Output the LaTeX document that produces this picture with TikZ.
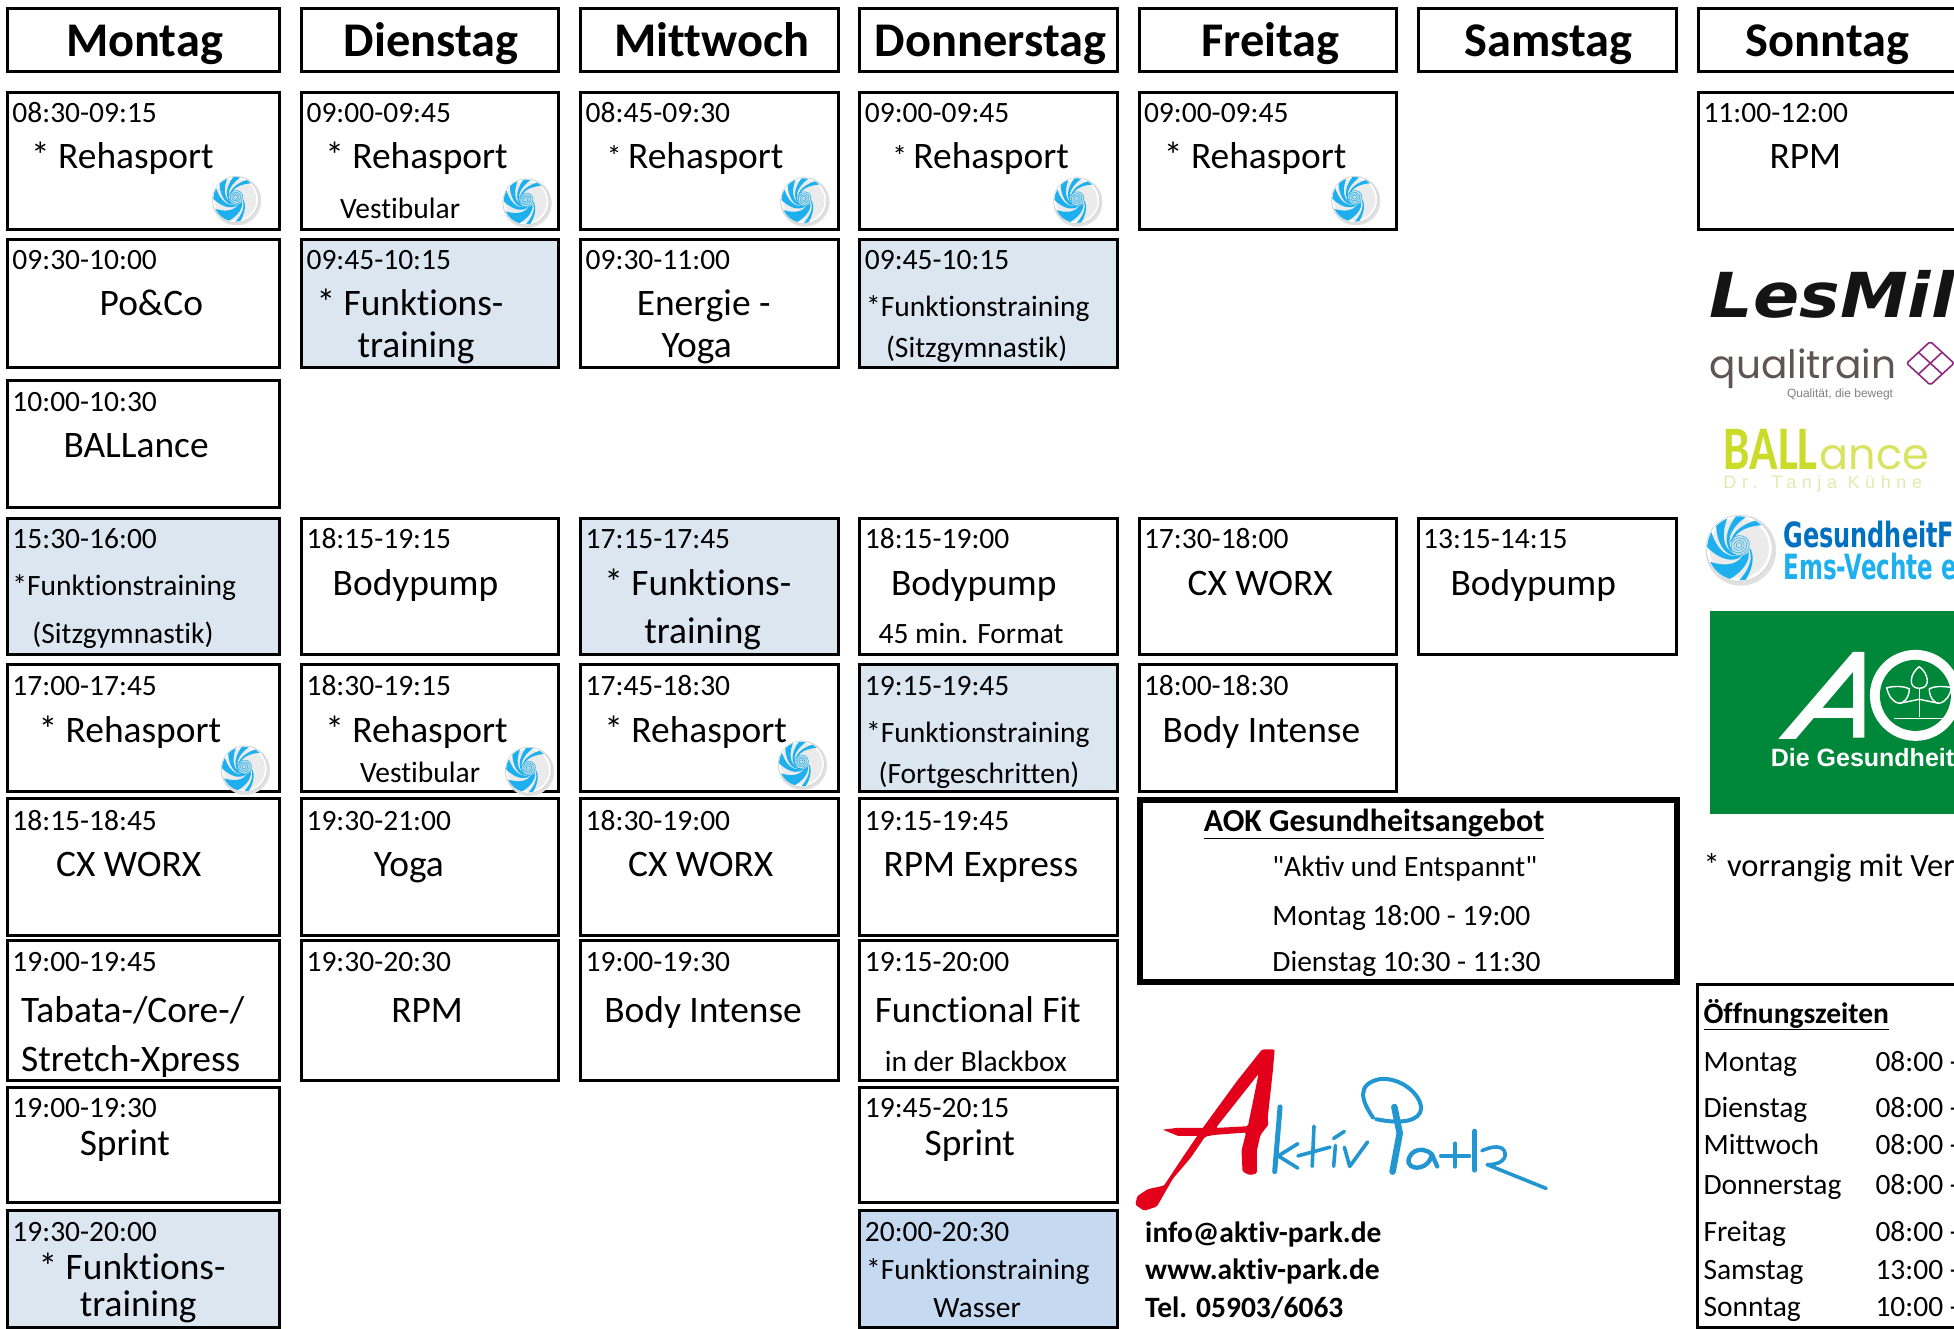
\documentclass[tikz,border=0pt]{standalone}
\usepackage{fontspec}
\setmainfont{Carlito}[RawFeature={-liga;-clig}]
\newfontfamily\qfont{Carlito}[Ligatures=ResetAll]
\newfontfamily\djsans{DejaVu Sans}
\newfontfamily\popfont{Poppins}
\newfontfamily\libsans{Liberation Sans}
\definecolor{funk}{HTML}{DCE6F1}
\definecolor{wass}{HTML}{C5D9F1}
\definecolor{swblue}{HTML}{1EB0EE}
\definecolor{gfblue}{HTML}{0070C0}
\definecolor{aokgreen}{HTML}{00883A}
\definecolor{lime}{HTML}{CBDB2A}
\definecolor{limepale}{HTML}{E3EAAE}
\definecolor{purp}{HTML}{8B2A7E}
\definecolor{qgrey}{HTML}{5E5454}
\definecolor{apred}{HTML}{E2001A}
\definecolor{apblue}{HTML}{2196D1}
\newcounter{lc}
\tikzset{
  x=1.2462pt,y=-1.2462pt,
  boxln/.style={draw=black,line width=3pt},
  lab/.style={anchor=base west,inner sep=0pt,outer sep=0pt,text=black},
  ftitle/.style={lab,font=\fontsize{48.4}{50}\bfseries\selectfont},
  ftime/.style={lab,font=\fontsize{29.5}{32}\selectfont},
  fmain/.style={lab,font=\fontsize{37.4}{40}\selectfont},
  fbold/.style={lab,font=\fontsize{29.5}{32}\bfseries\selectfont},
  swirl/.pic={
    \begin{scope}[x=#1,y=#1]
    \fill[black!12] (.05,-.06) circle (1.07);
    \fill[white] (0,0) circle (1);
    \fill[black!8] (0,0) circle (.9);
    \foreach \a/\w in {205/48,150/28,112/24,78/18,46/14,270/12}{
      \fill[swblue,rotate=\a] (0:.97) arc (0:\w:.97)
        .. controls (\w+45:.66) and (\w+90:.42) .. (\w+130:.2)
        .. controls (90:.42) and (45:.66) .. cycle;
    }
    \fill[swblue!55!black!20!white] (.04,.08) circle (.3);
    \foreach \r in {.08,.15,.22,.29}{
      \draw[swblue,line width=.5pt,rotate=30] (.04,.08) ellipse ({\r*1.1} and \r);
    }
    \draw[black!20,line width=.5pt] (0,0) circle (1);
    \end{scope}
  }
}
\newcommand\lb[4]{\stepcounter{lc}\node[#1,name=l\thelc] at (#2,#3) {#4};}
\newcommand\tm[3]{\lb{ftime}{#1}{#2+8.5}{#3}}
\newcommand\mn[3]{\lb{fmain}{#1}{#2+10.5}{#3}}
\newcommand\sm[3]{\lb{ftime}{#1}{#2+9}{#3}}
\newcommand\hd[5]{\draw[boxln] (#1+1,6.5) rectangle (#2-.5,57); \lb{ftitle}{#3}{45.5}{#4}}
\newcommand\bx[5]{\draw[boxln,#5] (#1+1,#2) rectangle (#3-.5,#4);}
\newcommand\sw[2]{\pic at (#1,#2) {swirl=23pt};}
\begin{document}
\begin{tikzpicture}
\useasboundingbox (0,0) rectangle (1568,1066.4);
\clip (0,0) rectangle (1568,1066.4);
\fill[white] (0,0) rectangle (1568,1066.4);
% headers
\hd{5}{225}{53}{Montag}{}
\hd{241}{449}{276}{Dienstag}{}
\hd{465}{673}{493}{Mittwoch}{}
\hd{689}{897}{702}{Donnerstag}{}
\hd{913}{1121}{964}{Freitag}{}
\hd{1137}{1346}{1175}{Samstag}{}
\hd{1362}{1575}{1401}{Sonntag}{}
% Montag
\bx{5}{74}{225}{184}{}
\tm{10}{90}{08:30-09:15}\mn{25}{125}{* Rehasport}\sw{189}{160}
\bx{5}{192}{225}{295}{}
\tm{10}{208}{09:30-10:00}\mn{80}{243}{Po\&Co}
\bx{5}{305}{225}{407}{}
\tm{10}{322}{10:00-10:30}\mn{51}{357}{BALLance}
\bx{5}{416}{225}{525}{fill=funk}
\tm{10}{432}{15:30-16:00}\sm{10}{469}{*Funktionstraining}\sm{26}{507}{(Sitzgymnastik)}
\bx{5}{533}{225}{635}{}
\tm{10}{550}{17:00-17:45}\mn{31}{585}{* Rehasport}\sw{196}{617}
\bx{5}{641}{225}{751}{}
\tm{10}{658}{18:15-18:45}\mn{45}{693}{CX WORX}
\bx{5}{755}{225}{867}{}
\tm{10}{771}{19:00-19:45}\mn{17}{810}{Tabata-/Core-/}\mn{17}{849}{Stretch-Xpress}
\bx{5}{873}{225}{965}{}
\tm{10}{888}{19:00-19:30}\mn{64}{917}{Sprint}
\bx{5}{971}{225}{1065}{fill=funk}
\tm{10}{988}{19:30-20:00}\mn{31}{1016}{* Funktions-}\mn{64}{1046}{training}
% Dienstag
\bx{241}{74}{449}{184}{}
\tm{246}{90}{09:00-09:45}\mn{261}{125}{* Rehasport}\sm{273}{166}{Vestibular}\sw{422}{162}
\bx{241}{192}{449}{295}{fill=funk}
\tm{246}{208}{09:45-10:15}\mn{254}{243}{* Funktions-}\mn{287}{276}{training}
\bx{241}{416}{449}{525}{}
\tm{246}{432}{18:15-19:15}\mn{267}{467}{Bodypump}
\bx{241}{533}{449}{635}{}
\tm{246}{550}{18:30-19:15}\mn{261}{585}{* Rehasport}\sm{289}{619}{Vestibular}\sw{424}{618}
\bx{241}{641}{449}{751}{}
\tm{246}{658}{19:30-21:00}\mn{300}{693}{Yoga}
\bx{241}{755}{449}{867}{}
\tm{246}{771}{19:30-20:30}\mn{314}{810}{RPM}
% Mittwoch
\bx{465}{74}{673}{184}{}
\tm{470}{90}{08:45-09:30}\sm{487}{125}{*}\mn{504}{125}{Rehasport}\sw{645}{161}
\bx{465}{192}{673}{295}{}
\tm{470}{208}{09:30-11:00}\mn{511}{243}{Energie -}\mn{531}{276}{Yoga}
\bx{465}{416}{673}{525}{fill=funk}
\tm{470}{432}{17:15-17:45}\mn{485}{467}{* Funktions-}\mn{517}{506}{training}
\bx{465}{533}{673}{635}{}
\tm{470}{550}{17:45-18:30}\mn{485}{585}{* Rehasport}\sw{643}{613}
\bx{465}{641}{673}{751}{}
\tm{470}{658}{18:30-19:00}\mn{504}{693}{CX WORX}
\bx{465}{755}{673}{867}{}
\tm{470}{771}{19:00-19:30}\mn{485}{810}{Body Intense}
% Donnerstag
\bx{689}{74}{897}{184}{}
\tm{694}{90}{09:00-09:45}\sm{716}{125}{*}\mn{733}{125}{Rehasport}\sw{864}{161}
\bx{689}{192}{897}{295}{fill=funk}
\tm{694}{208}{09:45-10:15}\sm{695}{245}{*Funktionstraining}\sm{711}{278}{(Sitzgymnastik)}
\bx{689}{416}{897}{525}{}
\tm{694}{432}{18:15-19:00}\mn{715}{467}{Bodypump}\sm{705}{507}{45 min. Format}
\bx{689}{533}{897}{635}{fill=funk}
\tm{694}{550}{19:15-19:45}\sm{695}{587}{*Funktionstraining}\sm{705}{620}{(Fortgeschritten)}
\bx{689}{641}{897}{751}{}
\tm{694}{658}{19:15-19:45}\mn{709}{693}{RPM Express}
\bx{689}{755}{897}{867}{}
\tm{694}{771}{19:15-20:00}\mn{702}{810}{Functional Fit}\sm{710}{851}{in der Blackbox}
\bx{689}{873}{897}{965}{}
\tm{694}{888}{19:45-20:15}\mn{742}{917}{Sprint}
\bx{689}{971}{897}{1065}{fill=wass}
\tm{694}{988}{20:00-20:30}\sm{695}{1018}{*Funktionstraining}\sm{749}{1048}{Wasser}
% Freitag
\bx{913}{74}{1121}{184}{}
\tm{918}{90}{09:00-09:45}\mn{934}{125}{* Rehasport}\sw{1087}{160}
\bx{913}{416}{1121}{525}{}
\tm{918}{432}{17:30-18:00}\mn{953}{467}{CX WORX}
\bx{913}{533}{1121}{635}{}
\tm{918}{550}{18:00-18:30}\mn{933}{585}{Body Intense}
% Samstag
\bx{1137}{416}{1346}{525}{}
\tm{1142}{432}{13:15-14:15}\mn{1164}{467}{Bodypump}
% Sonntag
\bx{1362}{74}{1575}{184}{}
\tm{1367}{90}{11:00-12:00}\mn{1420}{125}{RPM}
% AOK offer
\draw[draw=black,line width=6pt] (915,642) rectangle (1346,788);
\lb{lab,font=\fontsize{32}{34}\bfseries\selectfont}{966}{667}{\underline{AOK Gesundheitsangebot}}
\lb{lab,font=\fontsize{29.5}{32}\qfont}{1021}{703.5}{"Aktiv und Entspannt"}
\tm{1021}{734}{Montag 18:00 - 19:00}
\tm{1021}{771}{Dienstag 10:30 - 11:30}
% Aktiv Park handwriting
\begin{scope}[shift={(906.8,626)},x=.3572pt,y=-.3496pt]
  \fill[apred,even odd rule,rounded corners=1.5pt]
    (15,1215)--(20,1190)--(50,1170)--(95,1160)--(150,1075)--(200,1000)--(250,930)--(300,860)--(370,770)--(405,770)--(400,830)--(385,970)--(388,985)--(365,1015)--(355,1060)--(355,1125)--(335,1130)--(315,1120)--(312,1060)--(325,1008)--(235,1015)--(210,1020)--(170,1080)--(120,1140)--(75,1220)--(40,1232)--cycle
    (360,840)--(240,995)--(330,990)--cycle;
  \fill[apred] (92,1000)--(130,995)--(215,995)--(215,1018)--(135,1018)--cycle;
  \begin{scope}[apblue,line cap=round,line join=round,line width=3.6pt]
    \draw[line width=5pt] (420,935)--(405,1120);
    \draw (470,1040)--(415,1075)--(470,1110);
    \draw (515,990)--(510,1105);
    \draw (470,1075)--(560,1050);
    \draw (575,1045)--(570,1105);
    \draw (570,1025)--(600,1005);
    \draw (600,1050)--(615,1105)--(665,1035);
    \draw[line width=6.5pt] (740,935)--(755,1010)--(735,1120);
    \draw[line width=4pt] (680,965) .. controls (650,920) and (630,870) .. (700,855) .. controls (760,850) and (815,900) .. (815,940) .. controls (812,975) and (760,985) .. (690,970);
    \draw[line width=4.4pt] (845,1070) .. controls (810,1040) and (775,1070) .. (780,1095) .. controls (790,1120) and (840,1110) .. (845,1070) -- (860,1105);
    \draw (870,1075)--(950,1075);
    \draw[line width=4.4pt] (910,1040)--(910,1105);
    \draw[line width=5.5pt] (965,1005)--(965,1115);
    \draw (985,1060) .. controls (1030,1040) and (1052,1050) .. (1050,1075) .. controls (1045,1095) and (1020,1100) .. (1000,1100) -- (1165,1168);
  \end{scope}
\end{scope}
\lb{fbold}{919}{997}{info@aktiv-park.de}
\lb{fbold}{919}{1027}{www.aktiv-park.de}
\lb{fbold}{919}{1057}{Tel. 05903/6063}
% LesMills
\lb{lab,text=black!92}{1372}{255}{\scalebox{1.1}[1]{\djsans\fontsize{62}{62}\bfseries\itshape\selectfont LesMil}}
% qualitrain
\lb{lab,text=qgrey}{1372}{304}{\popfont\fontsize{39}{39}\selectfont qualitrain}
\lb{lab,text=gray}{1434}{319}{\libsans\fontsize{12}{12}\selectfont Qualität, die bewegt}
\begin{scope}[purp,line width=1.6pt,line join=round]
\draw[rounded corners=2pt] (1549,274)--(1568,291.5)--(1549,309)--(1530,291.5)--cycle;
\draw (1539.5,282.7)--(1558.5,300.2);
\draw (1558.5,282.7)--(1539.5,300.2);
\end{scope}
% BALLance
\lb{lab,text=lime}{1383}{377}{\scalebox{.76}[1]{\fontsize{62}{62}\bfseries\selectfont BALL}}
\lb{lab,text=lime!75!white}{1460}{377}{\popfont\fontsize{43}{43}\selectfont ance}
\lb{lab,text=limepale}{1383}{392}{\libsans\addfontfeature{LetterSpace=31}\fontsize{18}{18}\selectfont Dr. Tanja Kühne}
% Gesundheit logo
\pic at (1395.6,440) {swirl=33pt};
\lb{lab,text=gfblue}{1431}{439.5}{\scalebox{1}[1.45]{\djsans\fontsize{24}{24}\bfseries\selectfont GesundheitF}}
\lb{lab,text=swblue}{1431}{465}{\scalebox{.96}[1.45]{\djsans\fontsize{24}{24}\bfseries\selectfont Ems-Vechte e.}}
% AOK logo
\fill[aokgreen] (1372,490) rectangle (1568,653);
\fill[white,even odd rule] (1427,593)--(1487,523)--(1496,523)--(1496,592)--(1487,592)--(1487,576)--(1455.5,576)--(1441,593)--cycle
   (1462.4,568)--(1487,568)--(1487,539)--cycle;
\fill[white] (1537,558) circle (36.5);
\fill[aokgreen] (1537,558) circle (28.5);
\begin{scope}[shift={(1460.4,497.5)},x=.3334pt,y=-.3334pt,white,line width=1.4pt,line join=round]
  \draw (298,140) .. controls (270,160) and (262,205) .. (298,205) .. controls (334,205) and (326,160) .. (298,140) -- cycle;
  \draw (200,203) .. controls (225,198) and (250,198) .. (268,206) .. controls (268,235) and (250,250) .. (238,250) .. controls (215,245) and (205,225) .. (200,203) -- cycle;
  \draw (395,203) .. controls (370,198) and (345,198) .. (328,206) .. controls (328,235) and (345,250) .. (357,250) .. controls (380,245) and (390,225) .. (395,203) -- cycle;
  \draw (298,205)--(298,292);
  \draw (238,250)--(298,238)--(357,250);
  \draw (222,295)--(372,295);
\end{scope}
\lb{lab,text=white}{1421}{615}{\libsans\fontsize{25}{25}\bfseries\selectfont Die Gesundheit}
% footnote
\lb{lab,font=\fontsize{32.5}{34}\selectfont}{1367}{703.5}{* vorrangig mit Ver}
% Opening hours
\draw[boxln] (1362,790) rectangle (1575,1065);
\lb{fbold}{1367}{821}{\underline{Öffnungszeiten}}
\tm{1367}{851}{Montag}\tm{1505}{851}{08:00 -}
\tm{1367}{888}{Dienstag}\tm{1505}{888}{08:00 -}
\tm{1367}{918}{Mittwoch}\tm{1505}{918}{08:00 -}
\tm{1367}{950}{Donnerstag}\tm{1505}{950}{08:00 -}
\tm{1367}{988}{Freitag}\tm{1505}{988}{08:00 -}
\tm{1367}{1018}{Samstag}\tm{1505}{1018}{13:00 -}
\tm{1367}{1048}{Sonntag}\tm{1505}{1048}{10:00 -}
\end{tikzpicture}
\end{document}
